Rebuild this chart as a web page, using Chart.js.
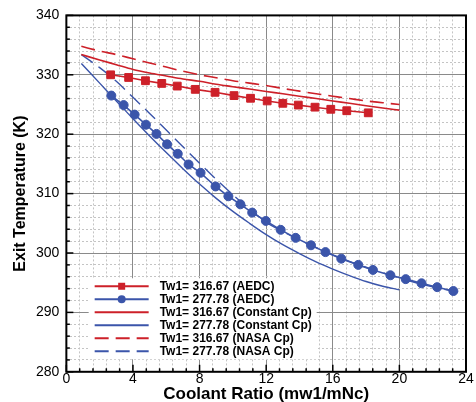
<!DOCTYPE html>
<html>
<head>
<meta charset="utf-8">
<script src="https://cdn.jsdelivr.net/npm/chart.js@4/dist/chart.umd.min.js"></script>
<style>
html,body{margin:0;padding:0;background:#fff;}
#wrap{width:476px;height:402px;}
</style>
</head>
<body>
<div id="wrap"><canvas id="c" width="476" height="402"></canvas></div>
<script>
// ---- data ----
const aedcRedX  = [2.66, 3.74, 4.75, 5.73, 6.66, 7.74, 8.93, 10.07, 11.06, 12.06, 13.0, 13.93, 14.93, 15.88, 16.84, 18.13];
const aedcRedY  = [330.0, 329.55, 329.0, 328.55, 328.1, 327.55, 327.05, 326.5, 326.05, 325.6, 325.2, 324.9, 324.55, 324.2, 323.95, 323.6];
const aedcBlueX = [2.7, 3.44, 4.1, 4.78, 5.41, 6.05, 6.69, 7.34, 8.06, 8.96, 9.73, 10.45, 11.16, 11.98, 12.87, 13.77, 14.69, 15.56, 16.51, 17.53, 18.41, 19.46, 20.38, 21.33, 22.27, 23.24];
const aedcBlueY = [326.5, 324.9, 323.3, 321.6, 320.05, 318.3, 316.7, 314.9, 313.5, 311.2, 309.55, 308.2, 306.8, 305.4, 303.9, 302.55, 301.3, 300.15, 299.05, 298.0, 297.15, 296.25, 295.6, 294.9, 294.25, 293.6];
const modelX     = [0.9, 2, 3, 4, 5, 6, 7, 8, 9, 10, 11, 12, 13, 14, 15, 16, 17, 18, 19, 20];
const constRedY  = [333.4, 332.5, 331.7, 330.9, 330.3, 329.8, 329.3, 328.9, 328.4, 328.0, 327.6, 327.2, 326.8, 326.4, 326.0, 325.6, 325.2, 324.8, 324.4, 324.05];
const constBlueY = [331.9, 328.6, 325.6, 322.6, 319.7, 316.9, 314.2, 311.6, 309.2, 307.0, 305.0, 303.1, 301.4, 299.9, 298.5, 297.3, 296.2, 295.2, 294.4, 293.8];
const nasaRedY   = [334.8, 334.0, 333.4, 332.7, 332.0, 331.3, 330.6, 330.0, 329.5, 329.0, 328.6, 328.2, 327.7, 327.25, 326.8, 326.4, 326.0, 325.6, 325.3, 325.0];
const nasaBlueX  = [0.9, 2, 3, 4, 5, 6, 7, 8, 9, 10, 11, 12, 13, 14, 15, 16, 17, 18, 19, 20, 21, 22, 23, 24];
const nasaBlueY  = [333.4, 331.2, 328.9, 326.2, 323.5, 320.7, 317.9, 315.1, 312.4, 309.8, 307.4, 305.2, 303.6, 302.2, 300.9, 299.7, 298.6, 297.6, 296.7, 295.8, 295.0, 294.3, 293.7, 293.2];
const seriesNames = ['Tw1= 316.67 (AEDC)', 'Tw1= 277.78 (AEDC)', 'Tw1= 316.67 (Constant Cp)', 'Tw1= 277.78 (Constant Cp)', 'Tw1= 316.67 (NASA Cp)', 'Tw1= 277.78 (NASA Cp)'];
const xTickLabels = ['0', '4', '8', '12', '16', '20', '24'];
const yTickLabels = ['280', '290', '300', '310', '320', '330', '340'];

const RED = '#cd2029';
const BLUE = '#3b55aa';
const pts = (xs, ys) => xs.map((x, i) => ({x: x, y: ys[i]}));
const near = (v, m) => Math.abs(v / m - Math.round(v / m)) < 1e-6;

const datasets = [
  {label: seriesNames[0], data: pts(aedcRedX, aedcRedY), borderColor: RED, backgroundColor: RED, borderWidth: 1.6,
   pointStyle: 'rect', pointRadius: 5.5, pointBorderWidth: 1, tension: 0},
  {label: seriesNames[1], data: pts(aedcBlueX, aedcBlueY), borderColor: BLUE, backgroundColor: BLUE, borderWidth: 1.6,
   pointStyle: 'circle', pointRadius: 4.5, pointBorderWidth: 1, tension: 0},
  {label: seriesNames[2], data: pts(modelX, constRedY), borderColor: RED, borderWidth: 1.6, pointRadius: 0,
   cubicInterpolationMode: 'monotone'},
  {label: seriesNames[3], data: pts(modelX, constBlueY), borderColor: BLUE, borderWidth: 1.4, pointRadius: 0,
   cubicInterpolationMode: 'monotone'},
  {label: seriesNames[4], data: pts(modelX, nasaRedY), borderColor: RED, borderWidth: 1.6, pointRadius: 0,
   borderDash: [14, 7], cubicInterpolationMode: 'monotone'},
  {label: seriesNames[5], data: pts(nasaBlueX, nasaBlueY), borderColor: BLUE, borderWidth: 1.4, pointRadius: 0,
   borderDash: [14, 7], cubicInterpolationMode: 'monotone'}
];

const frameAndTicks = {
  id: 'frameAndTicks',
  afterDraw(chart) {
    const {ctx, chartArea: a, scales: {x, y}} = chart;
    ctx.save();
    ctx.strokeStyle = '#000';
    ctx.lineWidth = 1.5;
    x.ticks.forEach(t => {
      const px = x.getPixelForValue(t.value);
      const len = near(t.value, 4) ? 7 : 3.5;
      ctx.beginPath(); ctx.moveTo(px, a.bottom); ctx.lineTo(px, a.bottom - len); ctx.stroke();
    });
    y.ticks.forEach(t => {
      const py = y.getPixelForValue(t.value);
      const len = near(t.value, 10) ? 7 : 3.5;
      ctx.beginPath(); ctx.moveTo(a.left, py); ctx.lineTo(a.left + len, py); ctx.stroke();
    });
    ctx.lineWidth = 2;
    ctx.strokeRect(a.left, a.top, a.right - a.left, a.bottom - a.top);
    ctx.restore();
  }
};

// legend drawn inside the plot, anchored to data-space coordinates of its first row
const innerLegend = {
  id: 'innerLegend',
  afterDatasetsDraw(chart) {
    const {ctx, scales: {x, y}} = chart;
    const left = x.getPixelForValue(1.7);
    const top = y.getPixelForValue(294.4);
    const rowH = 13;
    ctx.save();
    ctx.fillStyle = '#fff';
    ctx.fillRect(left - 6, top - 8, 228, rowH * 6 + 3);
    chart.data.datasets.forEach((ds, i) => {
      const cy = top + i * rowH;
      ctx.strokeStyle = ds.borderColor;
      ctx.lineWidth = 2;
      ctx.setLineDash(ds.borderDash || []);
      ctx.beginPath(); ctx.moveTo(left, cy); ctx.lineTo(left + 54, cy); ctx.stroke();
      ctx.setLineDash([]);
      if (ds.pointRadius > 0) {
        ctx.fillStyle = ds.backgroundColor;
        ctx.beginPath();
        if (ds.pointStyle === 'rect') ctx.rect(left + 27 - 3.5, cy - 3.5, 7, 7);
        else ctx.arc(left + 27, cy, 4, 0, Math.PI * 2);
        ctx.fill();
      }
      ctx.fillStyle = '#000';
      ctx.font = 'bold 12px "Liberation Sans", Arial, sans-serif';
      ctx.textBaseline = 'middle';
      ctx.textAlign = 'left';
      ctx.fillText(ds.label, left + 65, cy + 0.5);
    });
    ctx.restore();
  }
};

new Chart(document.getElementById('c'), {
  type: 'line',
  data: {datasets: datasets},
  options: {
    responsive: false,
    animation: false,
    layout: {padding: {left: 2, right: 10, top: 13, bottom: 1}},
    plugins: {legend: {display: false}, tooltip: {enabled: false}},
    scales: {
      x: {
        type: 'linear', min: 0, max: 24,
        border: {display: false, dash: (c) => (c.tick && near(c.tick.value, 4)) ? [] : [2, 2]},
        grid: {drawTicks: false,
               color: (c) => (c.tick && near(c.tick.value, 4)) ? '#8a8a8a' : '#c4c4c4',
               lineWidth: 1},
        ticks: {stepSize: 0.8, autoSkip: false, maxRotation: 0, padding: 1, color: '#000',
                font: {family: '"Liberation Sans", Arial, sans-serif', size: 14, lineHeight: 0.9},
                callback: (v) => near(v, 4) ? xTickLabels[Math.round(v / 4)] : ''},
        title: {display: true, text: 'Coolant Ratio (mw1/mNc)', color: '#000', padding: {top: 1, bottom: 0},
                font: {family: '"Liberation Sans", Arial, sans-serif', size: 17, weight: 'bold', lineHeight: 0.8}}
      },
      y: {
        type: 'linear', min: 280, max: 340,
        border: {display: false, dash: (c) => (c.tick && near(c.tick.value, 10)) ? [] : [2, 2]},
        grid: {drawTicks: false,
               color: (c) => (c.tick && near(c.tick.value, 10)) ? '#8a8a8a' : '#c4c4c4',
               lineWidth: 1},
        ticks: {stepSize: 2, autoSkip: false, padding: 7, color: '#000',
                font: {family: '"Liberation Sans", Arial, sans-serif', size: 14},
                callback: (v) => near(v, 10) ? yTickLabels[Math.round((v - 280) / 10)] : ''},
        title: {display: true, text: 'Exit Temperature (K)', color: '#000', padding: {top: 11, bottom: 0},
                font: {family: '"Liberation Sans", Arial, sans-serif', size: 16, weight: 'bold', lineHeight: 1}}
      }
    }
  },
  plugins: [innerLegend, frameAndTicks]
});
</script>
</body>
</html>
